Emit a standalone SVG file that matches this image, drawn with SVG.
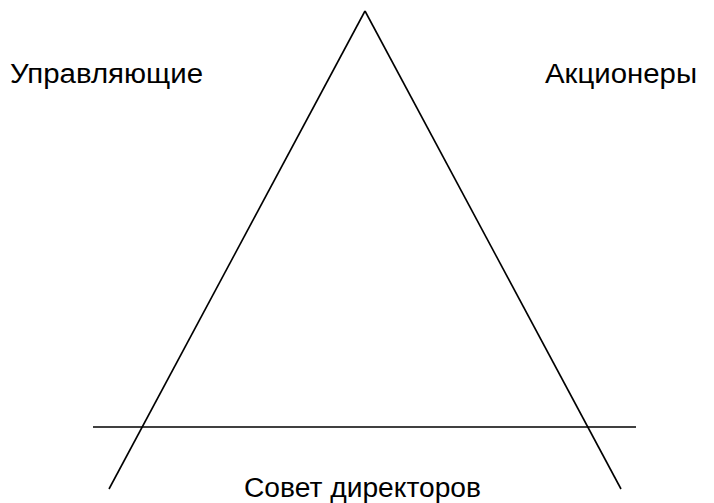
<svg xmlns="http://www.w3.org/2000/svg" width="714" height="503" viewBox="0 0 714 503">
<style>
.ln{stroke:#000;stroke-width:1.6;fill:none}
.t{font-family:"Liberation Sans",Arial,sans-serif;font-size:27px;fill:#000}
</style>
<rect width="714" height="503" fill="#fff"/>
<g id="connectors">
<line class="ln" x1="365" y1="11" x2="109" y2="489"/>
<line class="ln" x1="365" y1="11" x2="621" y2="489"/>
<line class="ln" x1="93" y1="427" x2="636" y2="427"/>
</g>
<g id="managers"><text class="t" x="10" y="83" textLength="193" lengthAdjust="spacingAndGlyphs">Управляющие</text></g>
<g id="shareholders"><text class="t" x="545" y="83" textLength="152" lengthAdjust="spacingAndGlyphs">Акционеры</text></g>
<g id="board"><text class="t" x="244" y="497" textLength="237" lengthAdjust="spacingAndGlyphs">Совет директоров</text></g>
</svg>
